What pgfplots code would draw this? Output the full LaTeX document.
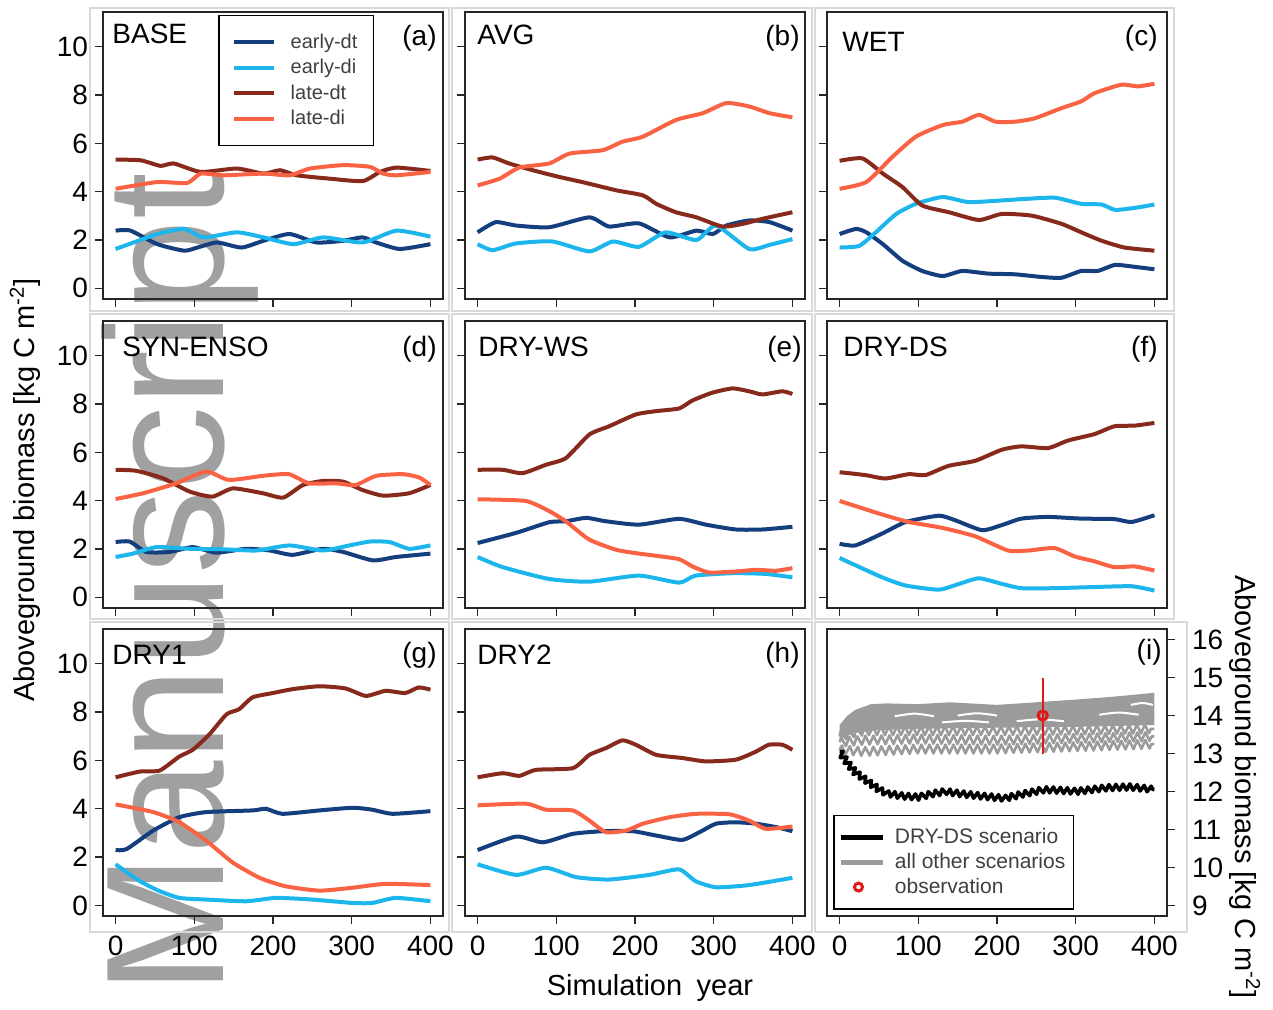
\documentclass[border=0pt]{standalone}
\usepackage{fontspec}
\setmainfont{Liberation Sans}
\usepackage{pgfplots}
\pgfplotsset{compat=1.18}
\usetikzlibrary{decorations.pathmorphing}

\definecolor{edt}{RGB}{20,62,125}
\definecolor{edi}{RGB}{28,182,236}
\definecolor{ldt}{RGB}{135,42,28}
\definecolor{ldi}{RGB}{250,98,68}
\definecolor{grayc}{RGB}{155,155,155}
\definecolor{wm}{RGB}{160,160,160}
\definecolor{obs}{RGB}{225,25,25}

\newcommand{\T}{\fontsize{14}{16}\selectfont}
\newcommand{\Lf}{\fontsize{14.5}{17}\selectfont}

\pgfplotsset{
  panel/.style={
    scale only axis, width=170pt, height=143.5pt, anchor=south west,
    xmin=-16, xmax=416, ymin=-0.44, ymax=11.44,
    xtick={0,100,200,300,400}, ytick={0,2,4,6,8,10},
    tick align=outside, major tick length=4pt,
    xtick pos=left, ytick pos=left,
    axis line style={black!85, line width=0.7pt},
    tick style={black!85, line width=0.7pt},
    tick label style={font=\T, text=black},
    xticklabel style={yshift=-2.5pt},
    /pgf/number format/assume math mode=true,
    /pgf/number format/1000 sep={},
  },
  nox/.style={xticklabels={}},
  noy/.style={yticklabels={}},
  ser/.style={line width=2pt, smooth, tension=0.35, color=#1},
  linelegA/.style={legend image code/.code={\draw[##1] (0pt,0pt) -- (20pt,0pt);}},
  linelegI/.style={legend image code/.code={\draw[##1] (0pt,0pt) -- (21pt,0pt);}},
}

\begin{document}
\begin{tikzpicture}
\useasboundingbox (0,0) rectangle (636.5pt,505pt);
\begin{scope}[x=0.5pt,y=-0.5pt,yshift=505pt]
\node[rotate=90, anchor=base west, inner sep=0pt, font=\fontsize{84}{84}\selectfont, text=wm] at (223,995) {Manuscript};
\draw[gray!30, line width=0.6pt] (90,8) rectangle (449,311);
\draw[gray!30, line width=0.6pt] (452,8) rectangle (812,311);
\draw[gray!30, line width=0.6pt] (815,8) rectangle (1174,311);
\draw[gray!30, line width=0.6pt] (90,314) rectangle (449,619);
\draw[gray!30, line width=0.6pt] (452,314) rectangle (812,619);
\draw[gray!30, line width=0.6pt] (815,314) rectangle (1174,619);
\draw[gray!30, line width=0.6pt] (90,622) rectangle (449,932);
\draw[gray!30, line width=0.6pt] (452,622) rectangle (812,932);
\draw[gray!30, line width=0.6pt] (815,622) rectangle (1187,932);
\end{scope}

% (a) BASE
\begin{axis}[panel, nox, at={(51.5pt,355.5pt)}, linelegA,
  legend style={at={(0.338,0.99)}, anchor=north west, draw=black, line width=0.8pt,
    font=\fontsize{10}{12}\selectfont, text=black!75, inner xsep=6.5pt, inner ysep=7.5pt,
    nodes={inner sep=1.5pt}, row sep=1pt,
    /tikz/every odd column/.append style={column sep=6pt}},
  legend cell align=left]
\addplot[ser=edt] coordinates {(0,2.39)(19,2.39)(53,1.83)(87,1.56)(104,1.69)(129,1.9)(160,1.69)(188,1.97)(221,2.25)(255,1.9)(289,1.97)(314,2.11)(331,1.9)(361,1.63)(400,1.83)};
\addlegendentry{early-dt}
\addplot[ser=edi] coordinates {(0,1.63)(23,1.9)(53,2.25)(87,2.46)(112,2.11)(154,2.32)(188,2.11)(226,1.83)(264,2.11)(314,1.9)(357,2.39)(400,2.14)};
\addlegendentry{early-di}
\addplot[ser=ldt] coordinates {(0,5.33)(32,5.3)(57,5.07)(74,5.17)(108,4.82)(154,4.96)(188,4.75)(209,4.89)(230,4.68)(272,4.54)(314,4.44)(336,4.82)(357,5.0)(400,4.86)};
\addlegendentry{late-dt}
\addplot[ser=ldi] coordinates {(0,4.12)(53,4.4)(91,4.36)(108,4.75)(137,4.68)(188,4.75)(221,4.68)(247,4.96)(289,5.1)(323,5.03)(340,4.75)(357,4.68)(400,4.82)};
\addlegendentry{late-di}
\end{axis}

% (b) AVG
\begin{axis}[panel, nox, noy, at={(232.5pt,355.5pt)}]
\addplot[ser=edt] coordinates {(0,2.32)(23,2.74)(49,2.6)(91,2.53)(142,2.94)(167,2.56)(205,2.69)(244,2.11)(278,2.39)(299,2.25)(316,2.6)(345,2.81)(371,2.74)(400,2.39)};
\addplot[ser=edi] coordinates {(0,1.83)(19,1.58)(49,1.86)(95,1.94)(142,1.53)(172,1.94)(205,1.72)(239,2.32)(278,2.0)(303,2.6)(345,1.63)(371,1.8)(400,2.04)};
\addplot[ser=ldt] coordinates {(0,5.33)(19,5.42)(40,5.17)(70,4.89)(104,4.61)(133,4.4)(176,4.06)(210,3.85)(227,3.5)(252,3.15)(278,2.94)(311,2.56)(337,2.67)(362,2.88)(400,3.15)};
\addplot[ser=ldi] coordinates {(0,4.26)(28,4.54)(53,5.0)(91,5.17)(117,5.58)(159,5.72)(184,6.07)(210,6.28)(252,6.97)(286,7.25)(316,7.67)(345,7.53)(371,7.25)(400,7.08)};
\end{axis}

% (c) WET
\begin{axis}[panel, nox, noy, at={(413.5pt,355.5pt)}]
\addplot[ser=edt] coordinates {(0,2.25)(21,2.46)(34,2.32)(55,1.83)(80,1.14)(105,0.72)(131,0.51)(156,0.72)(189,0.61)(223,0.58)(257,0.47)(282,0.44)(307,0.72)(328,0.72)(350,0.97)(375,0.89)(400,0.79)};
\addplot[ser=edi] coordinates {(0,1.69)(25,1.76)(46,2.32)(72,3.08)(97,3.5)(131,3.78)(164,3.57)(206,3.64)(240,3.71)(274,3.75)(307,3.5)(333,3.47)(350,3.25)(375,3.33)(400,3.47)};
\addplot[ser=ldt] coordinates {(0,5.28)(29,5.38)(55,4.75)(80,4.19)(105,3.43)(139,3.15)(177,2.83)(206,3.08)(244,3.01)(282,2.67)(307,2.32)(333,1.97)(362,1.69)(400,1.56)};
\addplot[ser=ldi] coordinates {(0,4.12)(34,4.4)(67,5.44)(97,6.28)(131,6.76)(156,6.9)(177,7.18)(198,6.9)(223,6.9)(248,7.04)(282,7.46)(307,7.74)(324,8.08)(358,8.43)(379,8.36)(400,8.47)};
\end{axis}

% (d) SYN-ENSO
\begin{axis}[panel, nox, at={(51.5pt,201pt)}]
\addplot[ser=edt] coordinates {(0,2.29)(18,2.31)(39,1.88)(69,1.88)(98,2.08)(128,1.85)(166,2.01)(196,1.94)(225,1.76)(263,2.01)(289,1.88)(327,1.53)(356,1.67)(400,1.81)};
\addplot[ser=edi] coordinates {(0,1.67)(22,1.81)(52,2.08)(94,2.01)(136,1.99)(179,1.94)(221,2.15)(263,1.94)(297,2.15)(323,2.31)(348,2.29)(373,2.01)(400,2.15)};
\addplot[ser=ldt] coordinates {(0,5.28)(26,5.24)(60,4.93)(94,4.38)(123,4.17)(149,4.51)(187,4.31)(213,4.13)(238,4.65)(264,4.82)(289,4.79)(314,4.44)(340,4.21)(373,4.31)(400,4.65)};
\addplot[ser=ldi] coordinates {(0,4.07)(35,4.31)(77,4.72)(115,5.21)(144,4.86)(187,5.03)(220,5.1)(246,4.72)(280,4.72)(305,4.65)(331,5.03)(365,5.1)(386,4.96)(400,4.65)};
\end{axis}

% (e) DRY-WS
\begin{axis}[panel, nox, noy, at={(232.5pt,201pt)}]
\addplot[ser=edt] coordinates {(0,2.25)(49,2.67)(91,3.11)(112,3.15)(138,3.29)(163,3.15)(205,3.01)(256,3.25)(290,3.01)(328,2.81)(362,2.81)(400,2.92)};
\addplot[ser=edi] coordinates {(0,1.67)(32,1.25)(91,0.76)(142,0.65)(205,0.9)(256,0.61)(277,0.9)(324,1.0)(366,0.97)(400,0.83)};
\addplot[ser=ldt] coordinates {(0,5.28)(32,5.28)(57,5.14)(87,5.49)(112,5.76)(142,6.74)(167,7.08)(201,7.57)(227,7.71)(256,7.82)(273,8.15)(298,8.47)(324,8.65)(345,8.53)(362,8.4)(387,8.53)(400,8.42)};
\addplot[ser=ldi] coordinates {(0,4.06)(61,3.99)(91,3.57)(112,3.15)(142,2.39)(176,1.97)(201,1.83)(227,1.72)(256,1.58)(273,1.28)(294,1.03)(328,1.07)(354,1.14)(379,1.1)(400,1.21)};
\end{axis}

% (f) DRY-DS
\begin{axis}[panel, nox, noy, at={(413.5pt,201pt)}]
\addplot[ser=edt] coordinates {(0,2.22)(20,2.15)(54,2.64)(84,3.12)(126,3.38)(147,3.19)(181,2.78)(206,2.99)(231,3.26)(265,3.33)(307,3.26)(349,3.24)(371,3.12)(400,3.4)};
\addplot[ser=edi] coordinates {(0,1.63)(54,0.83)(84,0.49)(126,0.32)(152,0.56)(177,0.79)(206,0.56)(231,0.38)(273,0.38)(316,0.42)(371,0.46)(400,0.28)};
\addplot[ser=ldt] coordinates {(0,5.18)(33,5.06)(58,4.92)(88,5.1)(109,5.06)(138,5.44)(172,5.65)(206,6.11)(231,6.25)(265,6.18)(290,6.49)(324,6.76)(349,7.08)(375,7.11)(400,7.22)};
\addplot[ser=ldi] coordinates {(0,3.99)(54,3.43)(88,3.12)(130,2.88)(172,2.53)(214,1.94)(240,1.94)(273,2.04)(299,1.69)(324,1.49)(349,1.25)(375,1.28)(400,1.11)};
\end{axis}

% (g) DRY1
\begin{axis}[panel, at={(51.5pt,47pt)}]
\addplot[ser=edt] coordinates {(0,2.29)(14,2.33)(48,3.1)(81,3.65)(115,3.86)(174,3.93)(191,4.0)(212,3.79)(259,3.93)(301,4.04)(326,3.96)(352,3.79)(400,3.9)};
\addplot[ser=edi] coordinates {(0,1.7)(31,1.0)(56,0.59)(81,0.31)(115,0.24)(166,0.17)(204,0.31)(250,0.24)(301,0.1)(326,0.1)(356,0.31)(400,0.17)};
\addplot[ser=ldt] coordinates {(0,5.3)(31,5.54)(56,5.58)(81,6.16)(98,6.44)(119,7.07)(141,7.91)(157,8.12)(174,8.61)(200,8.79)(225,8.95)(259,9.07)(292,8.98)(318,8.67)(343,8.88)(368,8.79)(385,9.02)(400,8.93)};
\addplot[ser=ldi] coordinates {(0,4.18)(48,3.86)(81,3.44)(115,2.68)(149,1.77)(183,1.14)(216,0.79)(259,0.61)(301,0.73)(343,0.89)(400,0.84)};
\end{axis}

% (h) DRY2
\begin{axis}[panel, noy, at={(232.5pt,47pt)}]
\addplot[ser=edt] coordinates {(0,2.29)(49,2.85)(83,2.61)(121,2.96)(159,3.07)(197,3.07)(227,2.89)(260,2.71)(282,3.03)(303,3.38)(328,3.44)(354,3.38)(379,3.24)(400,3.07)};
\addplot[ser=edi] coordinates {(0,1.7)(49,1.26)(87,1.56)(125,1.17)(167,1.07)(218,1.26)(256,1.49)(277,1.0)(303,0.75)(345,0.84)(400,1.14)};
\addplot[ser=ldt] coordinates {(0,5.3)(32,5.47)(53,5.36)(74,5.61)(121,5.68)(142,6.23)(163,6.51)(184,6.83)(201,6.65)(227,6.23)(260,6.1)(290,5.96)(328,6.03)(354,6.37)(370,6.65)(387,6.65)(400,6.44)};
\addplot[ser=ldi] coordinates {(0,4.14)(61,4.21)(87,3.96)(121,3.93)(142,3.51)(163,3.03)(189,3.1)(210,3.38)(244,3.65)(278,3.79)(320,3.77)(345,3.51)(366,3.17)(400,3.26)};
\end{axis}

% (i) totals
\begin{axis}[panel, at={(413.5pt,47pt)}, ymin=8.72, ymax=16.28, ytick={9,10,11,12,13,14,15,16},
  ytick pos=right, yticklabel pos=right, yticklabel style={xshift=5pt},
  legend style={at={(0.018,0.021)}, anchor=south west, draw=black, line width=0.8pt,
    font=\fontsize{10.5}{12}\selectfont, text=black!75, inner xsep=2.5pt, inner ysep=5pt,
    nodes={inner sep=1.5pt}, row sep=0.3pt,
    /tikz/every odd column/.append style={column sep=3pt}},
  legend cell align=left]
\addplot[forget plot, draw=none, fill=grayc] coordinates {(0,13.75)(10,14.0)(20,14.15)(40,14.3)(60,14.32)(100,14.3)(140,14.35)(200,14.28)(250,14.35)(300,14.42)(350,14.5)(400,14.6)(400,13.75)(300,13.7)(200,13.68)(100,13.65)(50,13.62)(20,13.55)(0,13.4)} -- cycle;
\addplot[forget plot, grayc, line width=1.3pt, line join=round, decorate, decoration={zigzag, segment length=4pt, amplitude=2.2pt}] coordinates {(0,13.45)(30,13.6)(100,13.6)(200,13.6)(300,13.62)(400,13.65)};
\addplot[forget plot, grayc, line width=1.3pt, line join=round, decorate, decoration={zigzag, segment length=4pt, amplitude=2.2pt}] coordinates {(0,13.3)(30,13.35)(100,13.38)(200,13.35)(300,13.4)(400,13.45)};
\addplot[forget plot, grayc, line width=1.3pt, line join=round, decorate, decoration={zigzag, segment length=4pt, amplitude=2.2pt}] coordinates {(0,13.1)(30,13.05)(100,13.12)(200,13.12)(300,13.18)(400,13.25)};
\addplot[forget plot, white, line width=1pt, smooth] coordinates {(70,13.98)(95,14.05)(120,13.98)};
\addplot[forget plot, white, line width=1pt, smooth] coordinates {(150,14.0)(175,14.06)(200,14.0)};
\addplot[forget plot, white, line width=1pt, smooth] coordinates {(130,13.82)(160,13.86)(190,13.82)};
\addplot[forget plot, white, line width=1pt, smooth] coordinates {(225,13.85)(255,13.9)(285,13.85)};
\addplot[forget plot, white, line width=1pt, smooth] coordinates {(330,14.02)(355,14.08)(380,14.02)};
\addplot[forget plot, white, line width=1pt, smooth] coordinates {(370,14.28)(385,14.33)(398,14.28)};
\addplot[forget plot, black, line width=1.8pt, line join=round, decorate, decoration={zigzag, segment length=3.5pt, amplitude=1.5pt}] coordinates {(0,13.05)(10,12.75)(20,12.5)(30,12.35)(40,12.2)(50,12.05)(60,11.95)(80,11.88)(100,11.85)(120,11.95)(135,12.0)(150,11.95)(180,11.88)(210,11.82)(230,11.92)(260,12.05)(290,12.02)(300,12.0)(340,12.1)(370,12.12)(400,12.05)};
\addplot[forget plot, obs, line width=1pt] coordinates {(258,13)(258,15)};
\addplot[forget plot, only marks, mark=o, mark size=2.3pt, obs, line width=1.5pt] coordinates {(258,14)};
\addlegendimage{black, line width=2.5pt, linelegI}
\addlegendentry{DRY-DS scenario}
\addlegendimage{grayc, line width=2.5pt, linelegI}
\addlegendentry{all other scenarios}
\addlegendimage{only marks, mark=o, mark size=2pt, obs, line width=1.5pt}
\addlegendentry{observation}
\end{axis}

\begin{scope}[x=0.5pt,y=-0.5pt,yshift=505pt]
\node[anchor=west, font=\T, inner sep=0pt] at (112,34) {BASE};
\node[anchor=east, font=\T, inner sep=0pt] at (437,38) {(a)};
\node[anchor=west, font=\T, inner sep=0pt] at (477,35) {AVG};
\node[anchor=east, font=\T, inner sep=0pt] at (800,38) {(b)};
\node[anchor=west, font=\T, inner sep=0pt] at (842,42) {WET};
\node[anchor=east, font=\T, inner sep=0pt] at (1158,38) {(c)};
\node[anchor=west, font=\T, inner sep=0pt] at (122,347) {SYN-ENSO};
\node[anchor=east, font=\T, inner sep=0pt] at (437,349) {(d)};
\node[anchor=west, font=\T, inner sep=0pt] at (478,347) {DRY-WS};
\node[anchor=east, font=\T, inner sep=0pt] at (802,349) {(e)};
\node[anchor=west, font=\T, inner sep=0pt] at (843,347) {DRY-DS};
\node[anchor=east, font=\T, inner sep=0pt] at (1158,349) {(f)};
\node[anchor=west, font=\T, inner sep=0pt] at (112,655) {DRY1};
\node[anchor=east, font=\T, inner sep=0pt] at (437,655) {(g)};
\node[anchor=west, font=\T, inner sep=0pt] at (477,655) {DRY2};
\node[anchor=east, font=\T, inner sep=0pt] at (800,655) {(h)};
\node[anchor=east, font=\T, inner sep=0pt] at (1162,652) {(i)};
\node[rotate=90, font=\Lf] at (25,490) {Aboveground biomass [kg C m\textsuperscript{-2}]};
\node[rotate=-90, font=\Lf] at (1245,787) {Aboveground biomass [kg C m\textsuperscript{-2}]};
\node[font=\Lf] at (650,988) {Simulation\hspace{0.5em}year};
\end{scope}
\end{tikzpicture}
\end{document}
